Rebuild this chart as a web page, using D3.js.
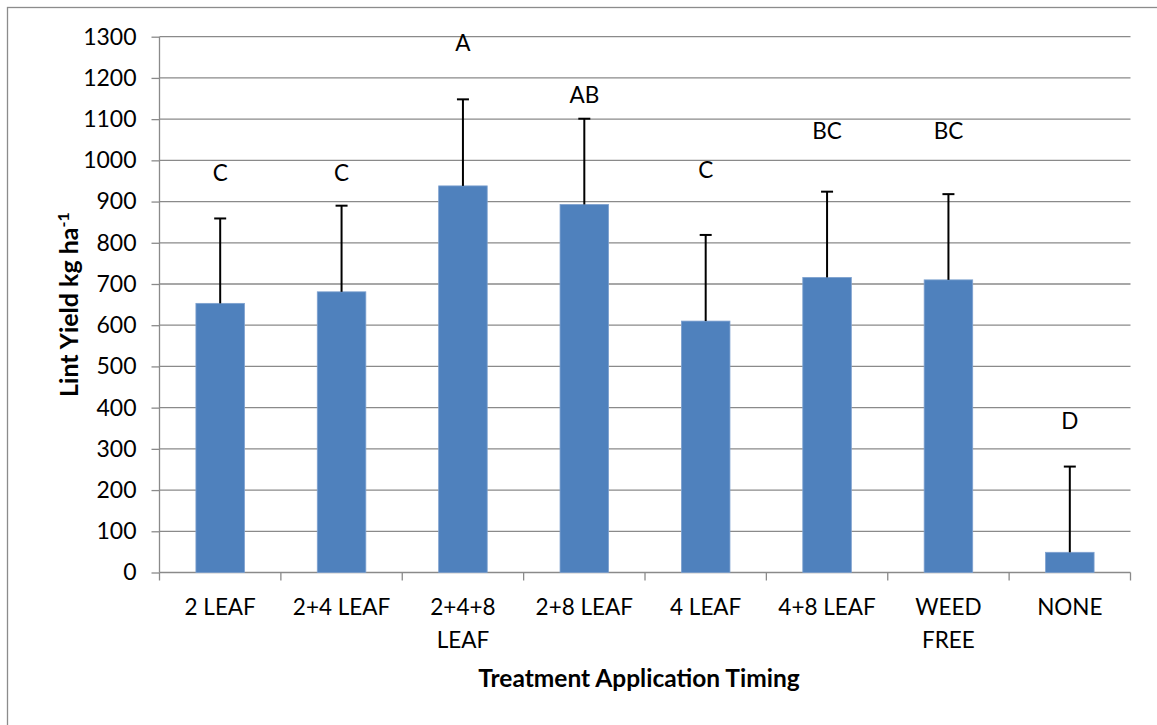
<!DOCTYPE html>
<html>
<head>
<meta charset="utf-8">
<script src="https://cdn.jsdelivr.net/npm/d3@7"></script>
<style>
  html, body { margin: 0; padding: 0; background: #ffffff; }
  svg { display: block; font-family: Lato, "Open Sans", sans-serif; }
</style>
</head>
<body>
<svg id="chart" width="1157" height="725"></svg>
<script>
// Treatment timings (x-axis categories), each split into display lines
const categories = ["2 LEAF", "2+4 LEAF", "2+4+8 LEAF", "2+8 LEAF", "4 LEAF", "4+8 LEAF", "WEED FREE", "NONE"];
const categoryLines = [["2 LEAF"], ["2+4 LEAF"], ["2+4+8", "LEAF"], ["2+8 LEAF"], ["4 LEAF"], ["4+8 LEAF"], ["WEED", "FREE"], ["NONE"]];

// Mean lint yield (kg/ha) and the upper error amount for each treatment
const lintYield = [653, 681, 938, 893, 610, 716, 710, 49];
const errorUp = [206, 209, 210, 208, 209, 208, 208, 208];

// Mean separation letters and the yield level at which each is written
const letters = ["C", "C", "A", "AB", "C", "BC", "BC", "D"];
const letterLevel = [969, 969, 1285, 1158, 977, 1071, 1071, 368];

// Y-axis ticks
const yTicks = [0, 100, 200, 300, 400, 500, 600, 700, 800, 900, 1000, 1100, 1200, 1300];

const svg = d3.select("#chart");
const W = 1157, H = 725;
const plot = { left: 159.5, right: 1130.5, top: 36.7, bottom: 572.5 };

// Outer chart frame
svg.append("rect")
  .attr("x", 7.5).attr("y", 7.5)
  .attr("width", W + 20).attr("height", H + 20)
  .attr("fill", "none").attr("stroke", "#8c8c8c").attr("stroke-width", 1.3);

const x = d3.scaleBand().domain(categories).range([plot.left, plot.right]).paddingInner(0.6).paddingOuter(0.3);
const y = d3.scaleLinear().domain([0, 1300]).range([plot.bottom, plot.top]);

const gridColor = "#8a8a8a";

// Horizontal gridlines
svg.append("g").selectAll("line").data(yTicks.filter(d => d > 0)).join("line")
  .attr("x1", plot.left).attr("x2", plot.right)
  .attr("y1", d => y(d)).attr("y2", d => y(d))
  .attr("stroke", gridColor).attr("stroke-width", 1.3);

// Y axis
const yAxis = svg.append("g")
  .attr("transform", `translate(${plot.left},0)`)
  .call(d3.axisLeft(y).tickValues(yTicks).tickSize(8).tickPadding(15).tickFormat(d3.format("d")));
yAxis.select(".domain").attr("stroke", gridColor).attr("stroke-width", 1.3).attr("d", `M-0,${plot.bottom}V${plot.top}`);
yAxis.selectAll(".tick line").attr("stroke", gridColor).attr("stroke-width", 1.3);
yAxis.selectAll(".tick text").attr("font-size", 23).attr("fill", "#000").attr("font-family", "Lato, sans-serif");

// X axis: baseline with tick marks at the category boundaries
const boundaries = d3.range(categories.length + 1).map(i => plot.left + i * (plot.right - plot.left) / categories.length);
svg.append("line")
  .attr("x1", plot.left).attr("x2", plot.right)
  .attr("y1", plot.bottom).attr("y2", plot.bottom)
  .attr("stroke", gridColor).attr("stroke-width", 1.3);
svg.append("g").selectAll("line").data(boundaries).join("line")
  .attr("x1", d => d).attr("x2", d => d)
  .attr("y1", plot.bottom).attr("y2", plot.bottom + 8)
  .attr("stroke", gridColor).attr("stroke-width", 1.3);

// Category labels (wrapped)
const catText = svg.append("g").selectAll("text").data(categories).join("text")
  .attr("x", d => x(d) + x.bandwidth() / 2)
  .attr("y", 615)
  .attr("text-anchor", "middle")
  .attr("font-size", 22.5)
  .attr("fill", "#000");
catText.each(function(d, i) {
  const t = d3.select(this);
  categoryLines[i].forEach((line, j) => {
    t.append("tspan").attr("x", x(d) + x.bandwidth() / 2).attr("dy", j === 0 ? 0 : 33).text(line);
  });
});

// Bars
svg.append("g").selectAll("rect").data(categories).join("rect")
  .attr("x", d => x(d))
  .attr("y", (d, i) => y(lintYield[i]))
  .attr("width", x.bandwidth())
  .attr("height", (d, i) => y(0) - y(lintYield[i]))
  .attr("fill", "#4f81bd")
  .attr("stroke", "#7ea1cf").attr("stroke-width", 0.8);

// Error bars (upper only)
const eb = svg.append("g").attr("stroke", "#000").attr("stroke-width", 2);
categories.forEach((c, i) => {
  const cx = x(c) + x.bandwidth() / 2;
  eb.append("line").attr("x1", cx).attr("x2", cx)
    .attr("y1", y(lintYield[i])).attr("y2", y(lintYield[i] + errorUp[i]));
  eb.append("line").attr("x1", cx - 6).attr("x2", cx + 6)
    .attr("y1", y(lintYield[i] + errorUp[i])).attr("y2", y(lintYield[i] + errorUp[i]));
});

// Mean separation letters
svg.append("g").selectAll("text").data(categories).join("text")
  .attr("x", d => x(d) + x.bandwidth() / 2)
  .attr("y", (d, i) => y(letterLevel[i]))
  .attr("dy", "0.35em")
  .attr("text-anchor", "middle")
  .attr("font-size", 22.5)
  .attr("fill", "#000")
  .text((d, i) => letters[i]);

// Axis titles
svg.append("text")
  .attr("x", 639)
  .attr("y", 687)
  .attr("text-anchor", "middle")
  .attr("font-weight", "bold")
  .attr("font-size", 24.5)
  .attr("fill", "#000")
  .text("Treatment Application Timing");

const yTitle = svg.append("text")
  .attr("transform", `translate(78,${(plot.top + plot.bottom) / 2}) rotate(-90)`)
  .attr("text-anchor", "middle")
  .attr("font-weight", "bold")
  .attr("font-size", 25)
  .attr("fill", "#000");
yTitle.append("tspan").text("Lint Yield kg ha");
yTitle.append("tspan").attr("dy", -9).attr("font-size", 16).text("-1");
</script>
</body>
</html>
